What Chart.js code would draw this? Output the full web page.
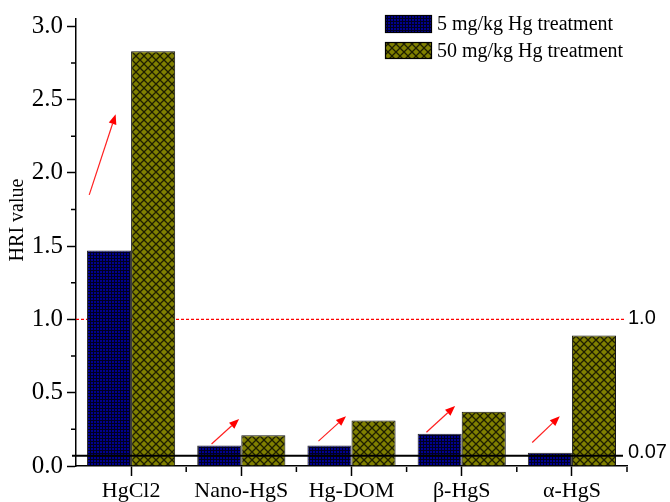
<!DOCTYPE html>
<html>
<head>
<meta charset="utf-8">
<script src="https://cdn.jsdelivr.net/npm/chart.js@4.4.1/dist/chart.umd.min.js"></script>
<style>
html, body { margin: 0; padding: 0; background: #fff; }
canvas { display: block; }
</style>
</head>
<body>
<canvas id="c" width="670" height="502"></canvas>
<script>
// Data
const categories = ['HgCl2', 'Nano-HgS', 'Hg-DOM', 'β-HgS', 'α-HgS'];
const seriesLabels = ['5 mg/kg Hg treatment', '50 mg/kg Hg treatment'];
const hri5 = [1.47, 0.14, 0.14, 0.22, 0.09];
const hri50 = [2.83, 0.21, 0.31, 0.37, 0.89];
const yTicks = [0, 0.5, 1.0, 1.5, 2.0, 2.5, 3.0];
const refLevels = [1.0, 0.07];
const refLabels = ['1.0', '0.07'];
// Trend arrows, in category-index / HRI units
const arrowStartX = [-0.38, 0.73, 1.70, 2.68, 3.64];
const arrowStartY = [1.85, 0.15, 0.17, 0.23, 0.16];
const arrowEndX = [-0.14, 0.98, 1.95, 2.94, 3.89];
const arrowEndY = [2.40, 0.32, 0.34, 0.41, 0.34];

const SERIF = '"Liberation Serif", "Times New Roman", serif';
const SANS = '"Liberation Sans", Arial, "DejaVu Sans", sans-serif';

// Fill patterns: fine grid on navy, diagonal cross-hatch on olive
function gridPattern() {
  const t = document.createElement('canvas');
  t.width = 3; t.height = 3;
  const g = t.getContext('2d');
  g.fillStyle = '#000090';
  g.fillRect(0, 0, 3, 3);
  g.fillStyle = '#000020';
  g.fillRect(0, 0, 3, 1);
  g.fillRect(0, 0, 1, 3);
  return g.createPattern(t, 'repeat');
}
function hatchPattern() {
  const s = 8;
  const t = document.createElement('canvas');
  t.width = s; t.height = s;
  const g = t.getContext('2d');
  g.fillStyle = '#808000';
  g.fillRect(0, 0, s, s);
  g.strokeStyle = '#1e1e00';
  g.lineWidth = 1.3;
  g.beginPath();
  g.moveTo(-1, -1); g.lineTo(s + 1, s + 1);
  g.moveTo(s + 1, -1); g.lineTo(-1, s + 1);
  g.stroke();
  return g.createPattern(t, 'repeat');
}
const ctx0 = document.getElementById('c').getContext('2d');
const bluePat = gridPattern();
const olivePat = hatchPattern();
const fills = [bluePat, olivePat];

function catX(x, v) {
  const p0 = x.getPixelForValue(0), p1 = x.getPixelForValue(1);
  return p0 + v * (p1 - p0);
}

const decor = {
  id: 'decor',
  beforeDatasetsDraw(chart) {
    const { ctx, chartArea: a, scales: { y } } = chart;
    // dashed reference at HRI = 1.0
    const yy = y.getPixelForValue(refLevels[0]);
    ctx.save();
    ctx.strokeStyle = '#ff0000';
    ctx.lineWidth = 1.3;
    ctx.setLineDash([3, 2]);
    ctx.beginPath();
    ctx.moveTo(a.left, yy);
    ctx.lineTo(a.right - 3, yy);
    ctx.stroke();
    ctx.restore();
  },
  afterDatasetsDraw(chart) {
    const { ctx, chartArea: a, scales: { x, y } } = chart;
    ctx.save();
    // solid reference at background level
    const yb = y.getPixelForValue(refLevels[1]);
    ctx.strokeStyle = '#000';
    ctx.lineWidth = 2;
    ctx.beginPath();
    ctx.moveTo(a.left - 4, yb);
    ctx.lineTo(a.right - 4, yb);
    ctx.stroke();

    // right-hand labels of the reference lines
    ctx.fillStyle = '#000';
    ctx.font = '20px ' + SANS;
    ctx.textAlign = 'left';
    ctx.textBaseline = 'middle';
    ctx.fillText(refLabels[0], a.right + 1, y.getPixelForValue(refLevels[0]) - 1);
    ctx.fillText(refLabels[1], a.right + 1, y.getPixelForValue(refLevels[1]) - 3);

    // red arrows
    ctx.strokeStyle = '#ff2020';
    ctx.fillStyle = '#ff0000';
    ctx.lineWidth = 1.2;
    for (let i = 0; i < arrowStartX.length; i++) {
      const x1 = catX(x, arrowStartX[i]), y1 = y.getPixelForValue(arrowStartY[i]);
      const x2 = catX(x, arrowEndX[i]), y2 = y.getPixelForValue(arrowEndY[i]);
      const ang = Math.atan2(y2 - y1, x2 - x1);
      const L = 10, W = 4;
      const bx = x2 - L * Math.cos(ang), by = y2 - L * Math.sin(ang);
      ctx.beginPath();
      ctx.moveTo(x1, y1);
      ctx.lineTo(bx, by);
      ctx.stroke();
      ctx.beginPath();
      ctx.moveTo(x2, y2);
      ctx.lineTo(bx + W * Math.sin(ang), by - W * Math.cos(ang));
      ctx.lineTo(bx - W * Math.sin(ang), by + W * Math.cos(ang));
      ctx.closePath();
      ctx.fill();
    }
    ctx.restore();
  },
  afterDraw(chart) {
    const { ctx, chartArea: a, scales: { x, y } } = chart;
    ctx.save();
    ctx.strokeStyle = '#000';
    ctx.lineWidth = 1.5;
    // minor ticks on the value axis
    ctx.beginPath();
    for (let i = 0; i < yTicks.length - 1; i++) {
      const py = y.getPixelForValue((yTicks[i] + yTicks[i + 1]) / 2);
      ctx.moveTo(a.left - 5, py);
      ctx.lineTo(a.left, py);
    }
    // minor ticks between categories and at the axis end
    for (let i = 0; i < categories.length; i++) {
      const px = catX(x, i + 0.5);
      ctx.moveTo(px, a.bottom + 1);
      ctx.lineTo(px, a.bottom + 6);
    }
    ctx.stroke();

    // axis title
    ctx.fillStyle = '#000';
    ctx.font = '20px ' + SERIF;
    ctx.translate(18, 220);
    ctx.rotate(-Math.PI / 2);
    ctx.textAlign = 'center';
    ctx.textBaseline = 'middle';
    ctx.fillText('HRI value', 0, 0);
    ctx.restore();

    // legend
    ctx.save();
    ctx.font = '20px ' + SERIF;
    ctx.textBaseline = 'middle';
    ctx.textAlign = 'left';
    const boxes = [[385, 15, 47, 18], [385, 42, 47, 17]];
    chart.data.datasets.forEach((ds, i) => {
      const [bx, by, bw, bh] = boxes[i];
      ctx.fillStyle = fills[i];
      ctx.fillRect(bx, by, bw, bh);
      ctx.strokeStyle = '#000';
      ctx.lineWidth = 1.2;
      ctx.strokeRect(bx + 0.5, by + 0.5, bw - 1, bh - 1);
      ctx.fillStyle = '#000';
      ctx.fillText(ds.label, bx + bw + 5, by + bh / 2 + 1);
    });
    ctx.restore();
  }
};

new Chart(ctx0, {
  type: 'bar',
  data: {
    labels: categories,
    datasets: [
      { label: seriesLabels[0], data: hri5, backgroundColor: bluePat, borderColor: '#2a2a2a', borderWidth: 1,
        categoryPercentage: 0.8, barPercentage: 1.0 },
      { label: seriesLabels[1], data: hri50, backgroundColor: olivePat, borderColor: '#111', borderWidth: 1,
        categoryPercentage: 0.8, barPercentage: 1.0 }
    ]
  },
  options: {
    responsive: false,
    devicePixelRatio: 1,
    animation: false,
    layout: { padding: { top: 17, right: 43, left: 0, bottom: 0 } },
    plugins: { legend: { display: false }, tooltip: { enabled: false } },
    scales: {
      x: {
        offset: true,
        ticks: { font: { family: SERIF, size: 22 }, color: '#000', padding: 2, maxRotation: 0, autoSkip: false },
        grid: { offset: false, drawOnChartArea: false, drawTicks: true, tickLength: 10, tickColor: '#000', tickWidth: 1.5 },
        border: { display: true, color: '#000', width: 1.5 },
        afterFit: s => { s.height = 36; }
      },
      y: {
        min: 0,
        max: 3.05,
        afterBuildTicks: s => { s.ticks = yTicks.map(v => ({ value: v })); },
        ticks: { font: { family: SERIF, size: 25 }, color: '#000', padding: 4, callback: v => Number(v).toFixed(1) },
        grid: { drawOnChartArea: false, drawTicks: true, tickLength: 9, tickColor: '#000', tickWidth: 1.5 },
        border: { display: true, color: '#000', width: 1.5 },
        afterFit: s => { s.width = 76; }
      }
    }
  },
  plugins: [decor]
});
</script>
</body>
</html>
